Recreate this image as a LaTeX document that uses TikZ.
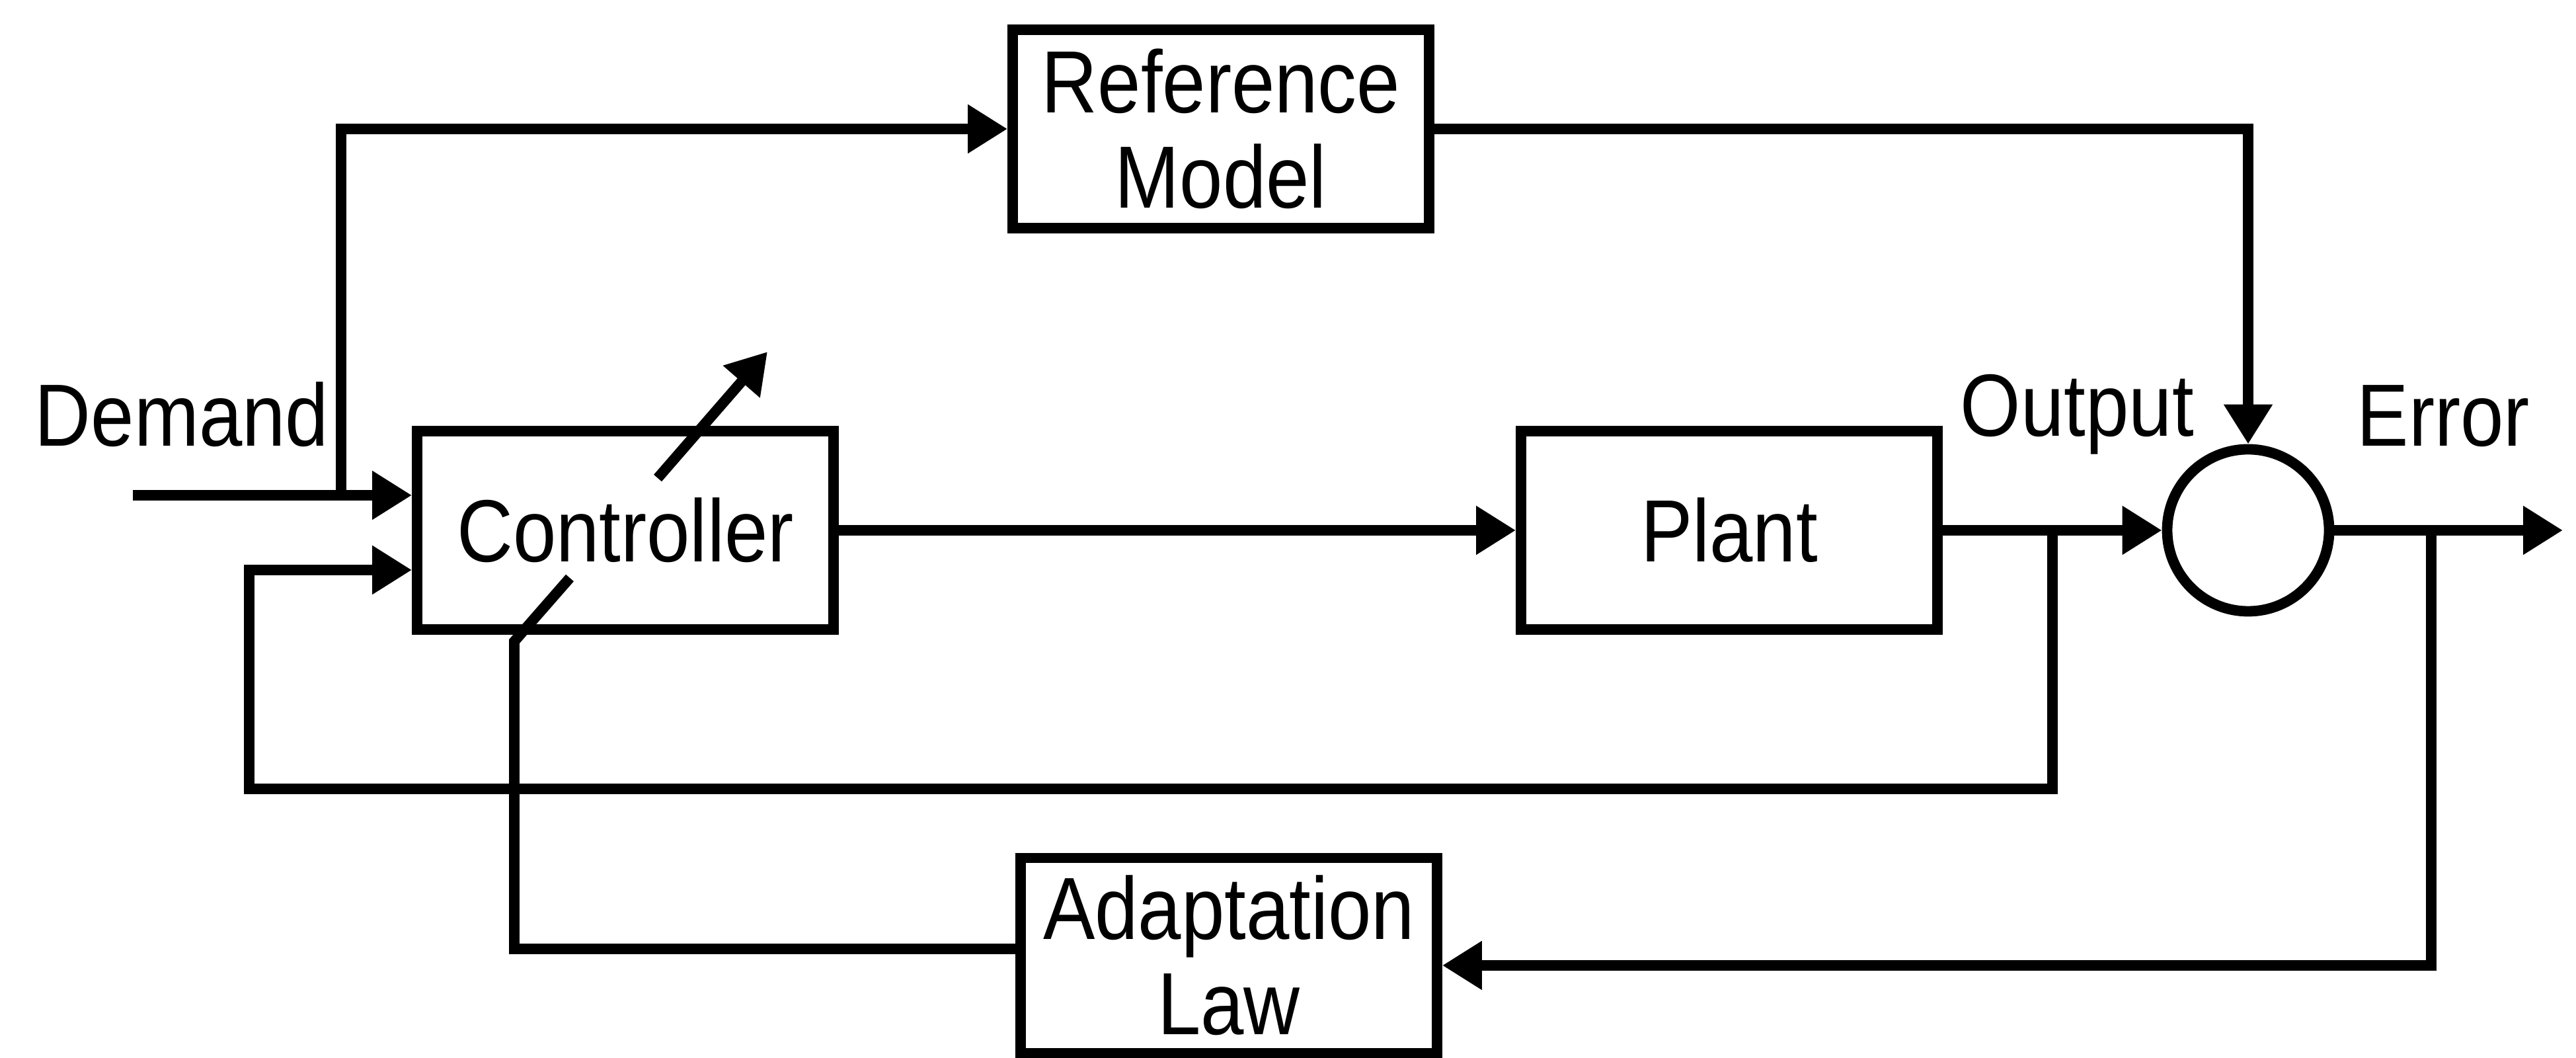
\documentclass[tikz,border=0pt]{standalone}
\usepackage{fontspec}
\setmainfont{Liberation Sans}[FakeStretch=0.88]
\usetikzlibrary{arrows.meta, calc}

\begin{document}
\begin{tikzpicture}[line width=4.5pt, >={Triangle[length=6mm,width=7mm]},
    blk/.style={draw, minimum width=6.3cm, minimum height=3cm, inner sep=1pt, align=center, font=\fontsize{38}{41}\selectfont},
    lbl/.style={anchor=base west, inner sep=0pt, font=\fontsize{38}{41}\selectfont}]
  \useasboundingbox (0,0) rectangle (38.97,16);
  \node[blk] (ref) at (18.47,14.05) {Reference\\Model};
  \node[blk] (ctrl) at (9.46,7.98) {Controller};
  \node[blk] (plant) at (26.16,7.98) {Plant};
  \node[draw, circle, minimum size=2.45cm] (sum) at (34.01,7.98) {};
  \node[blk, minimum height=2.95cm] (adapt) at (18.59,1.55) {Adaptation\\Law};
  \node[lbl] (dmd) at (0.45,9.25) {Demand};
  \node[lbl] (out) at (29.58,9.4) {Output};
  \node[lbl] (err) at (35.58,9.25) {Error};
  \coordinate (in) at (2.01,8.51);
  \coordinate (rtap) at (5.16,8.51);
  \coordinate (otap) at ($(plant.east)!0.5!(sum.west)$);
  \coordinate (fb) at (3.77,4.07);
  \coordinate (etap) at (36.78,7.98);
  \coordinate (eout) at (38.77,7.98);
  \coordinate (a1) at (7.78,6.30);
  \coordinate (a2) at (8.62,7.26);
  \coordinate (a3) at (9.95,8.77);
  \coordinate (a4) at (11.61,10.68);
  \draw[->] (in) -- ([yshift=5.3mm]ctrl.west);
  \draw[->] (rtap) |- (ref.west);
  \draw[->] (ctrl.east) -- (plant.west);
  \draw[->] (plant.east) -- (sum.west);
  \draw[->] (ref.east) -| (sum.north);
  \draw[->] (sum.east) -- (eout);
  \draw[->] (otap) |- (fb) |- ([yshift=-6mm]ctrl.west);
  \draw[->] (etap) |- ([yshift=-1.5mm]adapt.east);
  \draw ([yshift=1mm]adapt.west) -| (a1) -- (a2);
  \draw[->] (a3) -- (a4);
\end{tikzpicture}
\end{document}
